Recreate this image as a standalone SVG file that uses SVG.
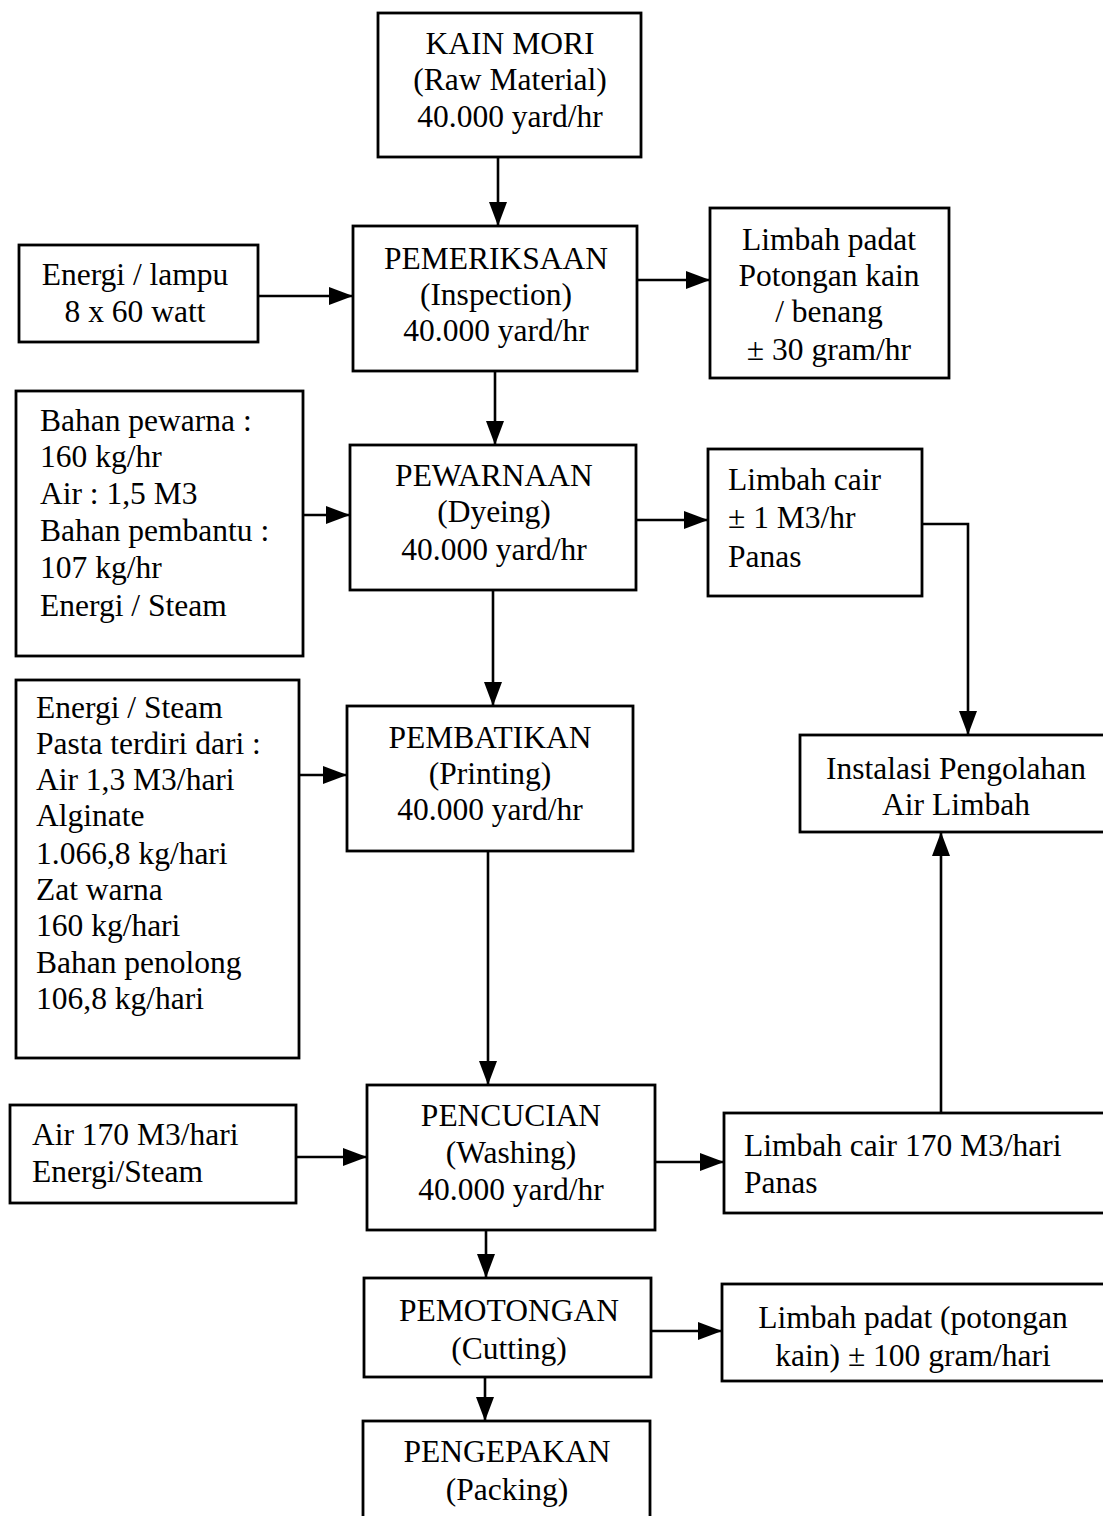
<svg xmlns="http://www.w3.org/2000/svg" width="1103" height="1516" viewBox="0 0 1103 1516">
  <style>
    .box { fill: #ffffff; stroke: #000000; stroke-width: 2.8; }
    .t { font-family: "Liberation Serif", "Times New Roman", serif; font-size: 31.5px; fill: #000000; }
    .c { text-anchor: middle; }
    .edge { fill: none; stroke: #000000; stroke-width: 2.6; marker-end: url(#arrow); }
  </style>
  <defs>
    <marker id="arrow" viewBox="0 0 24 18" refX="24" refY="9" markerWidth="24" markerHeight="18" markerUnits="userSpaceOnUse" orient="auto">
      <path d="M0,0 L24,9 L0,18 Z" fill="#000000"/>
    </marker>
  </defs>
  <rect width="1103" height="1516" fill="#ffffff"/>

  <!-- connectors -->
  <g id="connectors">
    <line class="edge" x1="498" y1="157" x2="498" y2="226"/>
    <line class="edge" x1="258" y1="296" x2="353" y2="296"/>
    <line class="edge" x1="637" y1="280" x2="710" y2="280"/>
    <line class="edge" x1="495" y1="371" x2="495" y2="445"/>
    <line class="edge" x1="303" y1="515" x2="350" y2="515"/>
    <line class="edge" x1="636" y1="520" x2="708" y2="520"/>
    <line class="edge" x1="493" y1="590" x2="493" y2="706"/>
    <polyline class="edge" points="922,524 968,524 968,735"/>
    <line class="edge" x1="299" y1="775" x2="347" y2="775"/>
    <line class="edge" x1="488" y1="851" x2="488" y2="1085"/>
    <line class="edge" x1="296" y1="1157" x2="367" y2="1157"/>
    <line class="edge" x1="655" y1="1162" x2="724" y2="1162"/>
    <line class="edge" x1="941" y1="1113" x2="941" y2="832"/>
    <line class="edge" x1="486" y1="1230" x2="486" y2="1278"/>
    <line class="edge" x1="651" y1="1331" x2="722" y2="1331"/>
    <line class="edge" x1="485" y1="1377" x2="485" y2="1421"/>
  </g>

  <g id="kain-mori">
    <rect class="box" x="378" y="13" width="263" height="144"/>
    <text class="t c" x="510" y="54">KAIN MORI</text>
    <text class="t c" x="510" y="90">(Raw Material)</text>
    <text class="t c" x="510" y="127">40.000 yard/hr</text>
  </g>

  <g id="pemeriksaan">
    <rect class="box" x="353" y="226" width="284" height="145"/>
    <text class="t c" x="496" y="269">PEMERIKSAAN</text>
    <text class="t c" x="496" y="305">(Inspection)</text>
    <text class="t c" x="496" y="341">40.000 yard/hr</text>
  </g>

  <g id="energi-lampu">
    <rect class="box" x="19" y="245" width="239" height="97"/>
    <text class="t c" x="135" y="285">Energi / lampu</text>
    <text class="t c" x="135" y="322">8 x 60 watt</text>
  </g>

  <g id="limbah-padat-1">
    <rect class="box" x="710" y="208" width="239" height="170"/>
    <text class="t c" x="829" y="250">Limbah padat</text>
    <text class="t c" x="829" y="286">Potongan kain</text>
    <text class="t c" x="829" y="322">/ benang</text>
    <text class="t c" x="829" y="360">± 30 gram/hr</text>
  </g>

  <g id="bahan-pewarna">
    <rect class="box" x="16" y="391" width="287" height="265"/>
    <text class="t" x="40" y="431">Bahan pewarna :</text>
    <text class="t" x="40" y="467">160 kg/hr</text>
    <text class="t" x="40" y="504">Air : 1,5 M3</text>
    <text class="t" x="40" y="541">Bahan pembantu :</text>
    <text class="t" x="40" y="578">107 kg/hr</text>
    <text class="t" x="40" y="616">Energi / Steam</text>
  </g>

  <g id="pewarnaan">
    <rect class="box" x="350" y="445" width="286" height="145"/>
    <text class="t c" x="494" y="486">PEWARNAAN</text>
    <text class="t c" x="494" y="522">(Dyeing)</text>
    <text class="t c" x="494" y="560">40.000 yard/hr</text>
  </g>

  <g id="limbah-cair-1">
    <rect class="box" x="708" y="449" width="214" height="147"/>
    <text class="t" x="728" y="490">Limbah cair</text>
    <text class="t" x="728" y="528">± 1 M3/hr</text>
    <text class="t" x="728" y="567">Panas</text>
  </g>

  <g id="energi-steam-pasta">
    <rect class="box" x="16" y="680" width="283" height="378"/>
    <text class="t" x="36" y="718">Energi / Steam</text>
    <text class="t" x="36" y="754">Pasta terdiri dari :</text>
    <text class="t" x="36" y="790">Air 1,3 M3/hari</text>
    <text class="t" x="36" y="826">Alginate</text>
    <text class="t" x="36" y="864">1.066,8 kg/hari</text>
    <text class="t" x="36" y="900">Zat warna</text>
    <text class="t" x="36" y="936">160 kg/hari</text>
    <text class="t" x="36" y="973">Bahan penolong</text>
    <text class="t" x="36" y="1009">106,8 kg/hari</text>
  </g>

  <g id="pembatikan">
    <rect class="box" x="347" y="706" width="286" height="145"/>
    <text class="t c" x="490" y="748">PEMBATIKAN</text>
    <text class="t c" x="490" y="784">(Printing)</text>
    <text class="t c" x="490" y="820">40.000 yard/hr</text>
  </g>

  <g id="instalasi-air-limbah">
    <rect class="box" x="800" y="735" width="310" height="97"/>
    <text class="t c" x="956" y="779">Instalasi Pengolahan</text>
    <text class="t c" x="956" y="815">Air Limbah</text>
  </g>

  <g id="pencucian">
    <rect class="box" x="367" y="1085" width="288" height="145"/>
    <text class="t c" x="511" y="1126">PENCUCIAN</text>
    <text class="t c" x="511" y="1163">(Washing)</text>
    <text class="t c" x="511" y="1200">40.000 yard/hr</text>
  </g>

  <g id="air-energi">
    <rect class="box" x="10" y="1105" width="286" height="98"/>
    <text class="t" x="32" y="1145">Air 170 M3/hari</text>
    <text class="t" x="32" y="1182">Energi/Steam</text>
  </g>

  <g id="limbah-cair-2">
    <rect class="box" x="724" y="1113" width="386" height="100"/>
    <text class="t" x="744" y="1156">Limbah cair 170 M3/hari</text>
    <text class="t" x="744" y="1193">Panas</text>
  </g>

  <g id="pemotongan">
    <rect class="box" x="364" y="1278" width="287" height="99"/>
    <text class="t c" x="509" y="1321">PEMOTONGAN</text>
    <text class="t c" x="509" y="1359">(Cutting)</text>
  </g>

  <g id="limbah-padat-2">
    <rect class="box" x="722" y="1284" width="388" height="97"/>
    <text class="t c" x="913" y="1328">Limbah padat (potongan</text>
    <text class="t c" x="913" y="1366">kain) ± 100 gram/hari</text>
  </g>

  <g id="pengepakan">
    <rect class="box" x="363" y="1421" width="287" height="105"/>
    <text class="t c" x="507" y="1462">PENGEPAKAN</text>
    <text class="t c" x="507" y="1500">(Packing)</text>
  </g>
</svg>
